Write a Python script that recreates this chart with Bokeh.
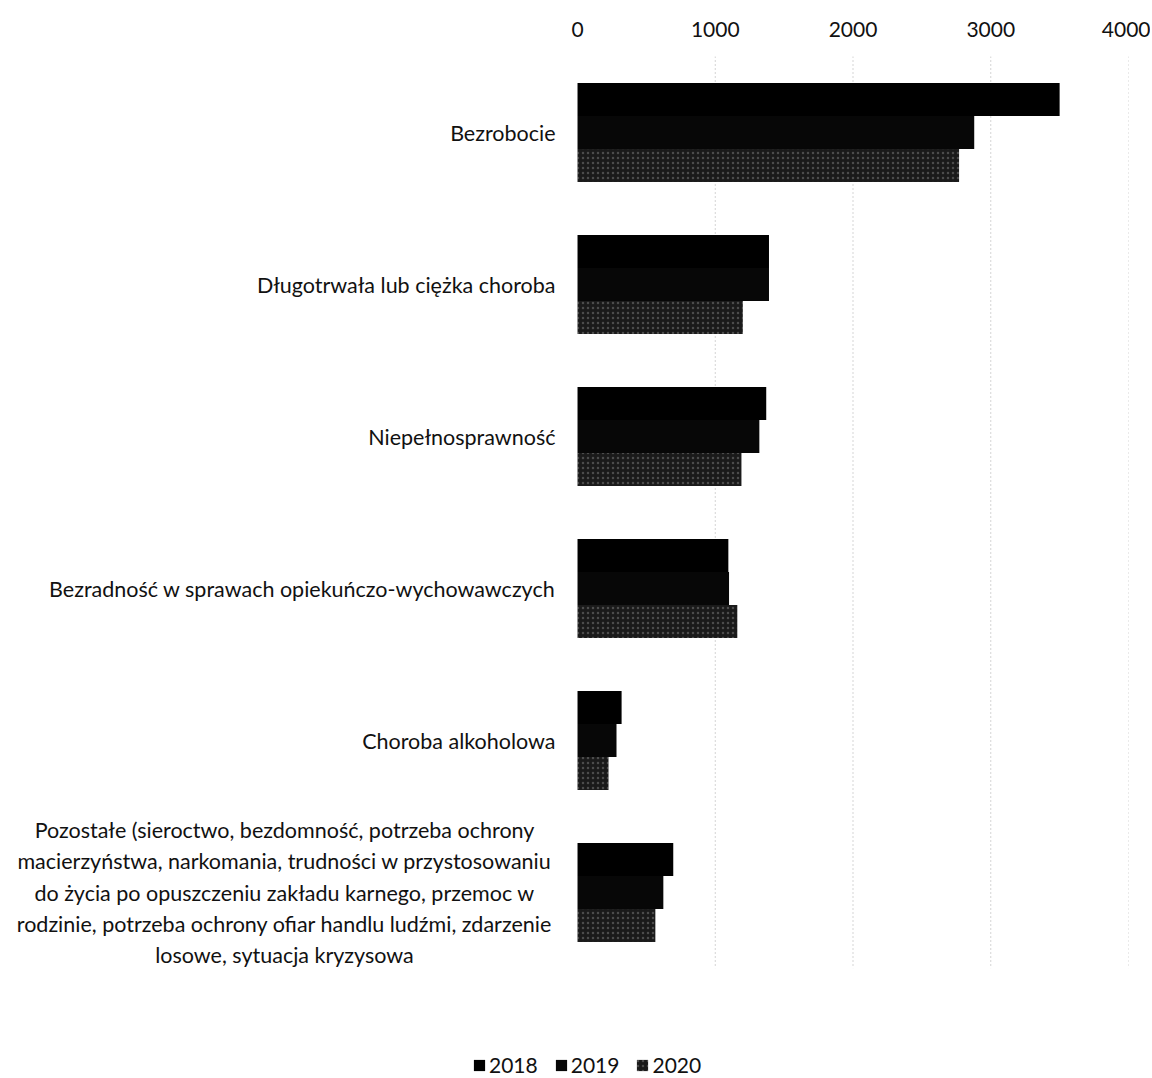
from bokeh.plotting import figure
from bokeh.models import Range1d, Legend, LegendItem, ColumnDataSource, FixedTicker
from bokeh.transform import dodge
from bokeh.embed import file_html
from bokeh.resources import INLINE
from bokeh.core.properties import value

# ---- data ----
categories = [
    "Bezrobocie",
    "Długotrwała lub ciężka choroba",
    "Niepełnosprawność",
    "Bezradność w sprawach opiekuńczo-wychowawczych",
    "Choroba alkoholowa",
    "Pozostałe (sieroctwo, bezdomność, potrzeba ochrony\n"
    "macierzyństwa, narkomania, trudności w przystosowaniu\n"
    "do życia po opuszczeniu zakładu karnego, przemoc w\n"
    "rodzinie, potrzeba ochrony ofiar handlu ludźmi, zdarzenie\n"
    "losowe, sytuacja kryzysowa",
]
years = ["2018", "2019", "2020"]
v2018 = [3500, 1390, 1370, 1095, 320, 695]
v2019 = [2880, 1390, 1320, 1100, 283, 623]
v2020 = [2770, 1200, 1190, 1160, 225, 565]
x_ticks = [0, 1000, 2000, 3000, 4000]

FONT = "Lato"
W, H = 1150, 1076

p = figure(
    width=W, height=H, output_backend="svg", toolbar_location=None,
    x_range=Range1d(-4131, 4000), y_range=Range1d(6.21, -0.5),
    x_axis_location="above", y_axis_location=None,
    min_border_left=8, min_border_right=22, min_border_top=56, min_border_bottom=0,
)
p.outline_line_color = None
p.xgrid.visible = False
p.ygrid.visible = False
p.background_fill_color = "white"

ax = p.xaxis[0]
ax.ticker = FixedTicker(ticks=x_ticks)
ax.axis_line_color = None
ax.major_tick_line_color = None
ax.minor_tick_line_color = None
ax.major_label_standoff = 14
ax.major_label_text_font = FONT
ax.major_label_text_font_size = "21px"
ax.major_label_text_color = "#111111"

# dotted vertical grid lines
grid_x = x_ticks[1:]
p.segment(x0=grid_x, y0=[-0.5] * len(grid_x), x1=grid_x, y1=[5.5] * len(grid_x),
          line_color="#aaaaaa", line_dash="1 3", line_width=1)

src = ColumnDataSource(dict(y=list(range(len(categories))), v2018=v2018, v2019=v2019, v2020=v2020))
bh = 0.217
r1 = p.hbar(y=dodge("y", -bh), left=0, right="v2018", height=bh, source=src,
            fill_color="#000000", line_color=None)
r2 = p.hbar(y="y", left=0, right="v2019", height=bh, source=src,
            fill_color="#070707", line_color=None)
r3 = p.hbar(y=dodge("y", bh), left=0, right="v2020", height=bh, source=src,
            fill_color="#1a1a1a", line_color=None,
            hatch_pattern="dot", hatch_color="#ffffff", hatch_alpha=0.22, hatch_scale=5)

# category labels
single_y = [i for i, c in enumerate(categories) if "\n" not in c]
single_t = [c for c in categories if "\n" not in c]
multi_y = [i for i, c in enumerate(categories) if "\n" in c]
multi_t = [c for c in categories if "\n" in c]
p.text(x=[0] * len(single_y), y=single_y, text=single_t, x_offset=-22,
       text_align="right", text_baseline="middle", text_font=value(FONT),
       text_font_size="21.5px", text_color="#111111")
p.text(x=[0] * len(multi_y), y=multi_y, text=multi_t, x_offset=-293,
       text_align="center", text_baseline="middle", text_font=value(FONT),
       text_font_size="21.5px", text_color="#111111", text_line_height=1.2)

legend = Legend(
    items=[LegendItem(label=years[0], renderers=[r1]),
           LegendItem(label=years[1], renderers=[r2]),
           LegendItem(label=years[2], renderers=[r3])],
    orientation="horizontal", location=(464, -1),
    label_text_font=FONT, label_text_font_size="21px", label_text_color="#111111",
    glyph_width=14, glyph_height=14, label_standoff=3, spacing=16,
    padding=0, margin=0, border_line_color=None, background_fill_alpha=0,
    label_height=20,
)
p.add_layout(legend)

open("out.html", "w").write(file_html(p, INLINE))
